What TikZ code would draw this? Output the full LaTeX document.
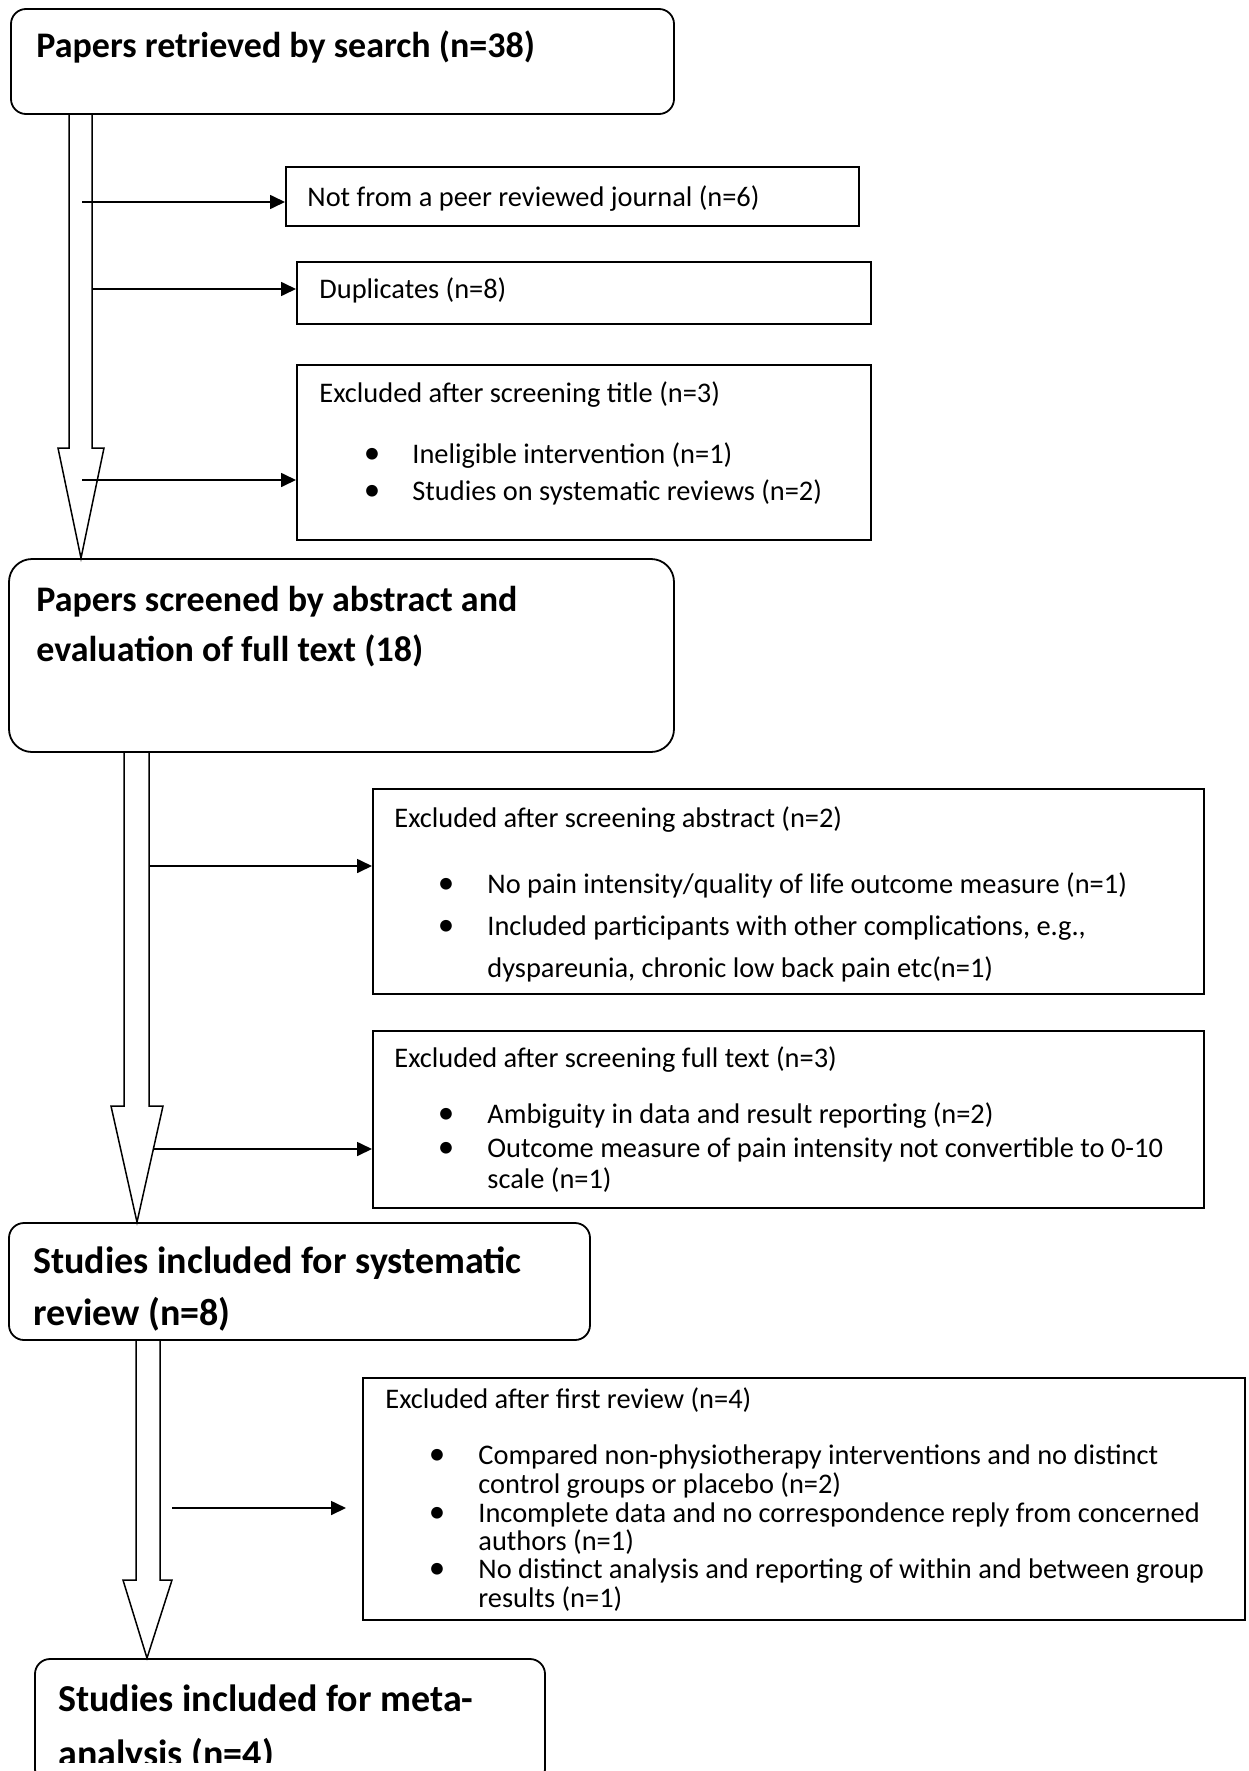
\documentclass[tikz,border=0pt]{standalone}
\usepackage{fontspec}
\setmainfont{Carlito}
\usetikzlibrary{fit,arrows.meta}
\begin{document}
\begin{tikzpicture}[x=0.5pt,y=-0.5pt,
  rbox/.style={draw, line width=0.9pt, inner sep=0pt},
  sbox/.style={draw, line width=1pt, inner sep=0pt},
  hollow/.style={draw, line width=0.75pt, line join=miter},
  side/.style={draw, line width=0.85pt, -{Triangle[length=7.5pt,width=7pt]}},
  btxt/.style={anchor=base west, inner sep=0pt, font=\fontsize{18}{22}\selectfont\bfseries},
  bbtxt/.style={anchor=base west, inner sep=0pt, font=\fontsize{19}{23}\selectfont\bfseries},
  rtxt/.style={anchor=base west, inner sep=0pt, font=\fontsize{14.2}{17}\selectfont},
  bul/.style={anchor=base, inner sep=0pt, font=\fontsize{16.5}{17}\selectfont}
]
\useasboundingbox (0,0) rectangle (1248,1771);

% main boxes
\node[rbox, rounded corners=7.5pt, fit={(11,9) (674,114)}] (b1) {};
\node[btxt] (t1) at (36,58) {Papers retrieved by search (n=38)};

\node[rbox, rounded corners=11.5pt, fit={(9,559) (674,752)}] (b2) {};
\node[btxt] (t2a) at (36,611) {Papers screened by abstract and};
\node[btxt] (t2b) at (36,661) {evaluation of full text (18)};

\node[rbox, rounded corners=7.5pt, fit={(9,1223) (590,1340)}] (b3) {};
\node[bbtxt] (t3a) at (33,1273) {Studies included for systematic};
\node[bbtxt] (t3b) at (33,1325) {review (n=8)};

\node[rbox, rounded corners=7.5pt, fit={(35,1659) (545,1784)}] (b4) {};
\node[bbtxt] (t4a) at (58,1711) {Studies included for meta-};
\begin{scope}
  \clip (0,0) rectangle (1248,1762);
  \node[bbtxt] (t4b) at (58,1766) {analysis (n=4)};
\end{scope}

% exclusion boxes
\node[sbox, fit={(286,167) (859,226)}] (e1) {};
\node[rtxt] (e1t) at (307,207) {Not from a peer reviewed journal (n=6)};

\node[sbox, fit={(297,262) (871,324)}] (e2) {};
\node[rtxt] (e2t) at (319,299) {Duplicates (n=8)};

\node[sbox, fit={(297,365) (871,540)}] (e3) {};
\node[rtxt] (e3t) at (319,402) {Excluded after screening title (n=3)};
\node[bul] (e3b1) at (372,463) {•};
\node[rtxt] (e3l1) at (412,463) {Ineligible intervention (n=1)};
\node[bul] (e3b2) at (372,500) {•};
\node[rtxt] (e3l2) at (412,500) {Studies on systematic reviews (n=2)};

\node[sbox, fit={(373,789) (1204,994)}] (e4) {};
\node[rtxt] (e4t) at (394,827) {Excluded after screening abstract (n=2)};
\node[bul] (e4b1) at (446,893) {•};
\node[rtxt] (e4l1) at (487,893) {No pain intensity/quality of life outcome measure (n=1)};
\node[bul] (e4b2) at (446,935) {•};
\node[rtxt] (e4l2) at (487,935) {Included participants with other complications, e.g.,};
\node[rtxt] (e4l3) at (487,977) {dyspareunia, chronic low back pain etc(n=1)};

\node[sbox, fit={(373,1031) (1204,1208)}] (e5) {};
\node[rtxt] (e5t) at (394,1067) {Excluded after screening full text (n=3)};
\node[bul] (e5b1) at (446,1123) {•};
\node[rtxt] (e5l1) at (487,1123) {Ambiguity in data and result reporting (n=2)};
\node[bul] (e5b2) at (446,1157) {•};
\node[rtxt] (e5l2) at (487,1157) {Outcome measure of pain intensity not convertible to 0-10};
\node[rtxt] (e5l3) at (487,1188) {scale (n=1)};

\node[sbox, fit={(363,1378) (1245,1620)}] (e6) {};
\node[rtxt] (e6t) at (385,1408) {Excluded after first review (n=4)};
\node[bul] (e6b1) at (437,1464) {•};
\node[rtxt] (e6l1) at (478,1464) {Compared non-physiotherapy interventions and no distinct};
\node[rtxt] (e6l2) at (478,1493) {control groups or placebo (n=2)};
\node[bul] (e6b2) at (437,1522) {•};
\node[rtxt] (e6l3) at (478,1522) {Incomplete data and no correspondence reply from concerned};
\node[rtxt] (e6l4) at (478,1550) {authors (n=1)};
\node[bul] (e6b3) at (437,1578) {•};
\node[rtxt] (e6l5) at (478,1578) {No distinct analysis and reporting of within and between group};
\node[rtxt] (e6l6) at (478,1607) {results (n=1)};

% hollow block arrows
\draw[hollow] (69,0 |- b1.south) -- (69,448) -- (58,448) -- (81,0 |- b2.north)
  -- (104,448) -- (92,448) -- (92,0 |- b1.south);
\draw[hollow] (124,0 |- b2.south) -- (124,1106) -- (111,1106) -- (137,0 |- b3.north)
  -- (163,1106) -- (149,1106) -- (149,0 |- b2.south);
\draw[hollow] (136,0 |- b3.south) -- (136,1580) -- (123,1580) -- (147,0 |- b4.north)
  -- (172,1580) -- (160,1580) -- (160,0 |- b3.south);

% side arrows
\coordinate (s1) at (82,202);
\coordinate (s2) at (92,289);
\coordinate (s3) at (82,480);
\coordinate (s4) at (150,866);
\coordinate (s5) at (154,1149);
\coordinate (s6) at (172,1508);
\draw[side] (s1) -- (s1 -| e1.west);
\draw[side] (s2) -- (s2 -| e2.west);
\draw[side] (s3) -- (s3 -| e3.west);
\draw[side] (s4) -- (s4 -| e4.west);
\draw[side] (s5) -- (s5 -| e5.west);
\draw[side, shorten >=8pt] (s6) -- (s6 -| e6.west);
\end{tikzpicture}
\end{document}
